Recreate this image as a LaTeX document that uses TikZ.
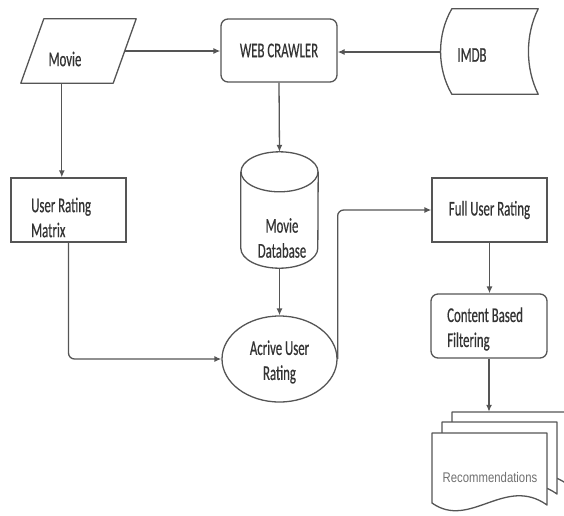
\documentclass[tikz,border=0pt]{standalone}
\usepackage{fontspec}
\setmainfont{Carlito}
\newfontfamily\lblfont{Carlito}[FakeStretch=0.61, FakeBold=0.5]
\newfontfamily\docfont{Liberation Sans}[FakeStretch=0.81]
\usetikzlibrary{arrows.meta,shapes.geometric,calc}
\definecolor{edge}{HTML}{555555}
\definecolor{ink}{HTML}{333333}
\definecolor{docink}{HTML}{707070}

\tikzset{
  outline/.style={draw=edge, line width=1.3pt},
  boxnode/.style={outline, rectangle, minimum width=115pt, minimum height=64pt, inner sep=0pt},
  roundbox/.style={boxnode, rounded corners=7pt},
  ghost/.style={rectangle, draw=none, inner sep=0pt},
  flow/.style={draw=edge, line width=1.3pt, rounded corners=6pt, -{Latex[length=7pt,width=6pt]}},
  docpage/.pic={
    \draw[outline, fill=white, line join=round]
      (-57.5,-36) -- (57.5,-36) -- (57.5,36)
      .. controls (15.5,6) and (-19.5,61) .. (-57.5,34) -- cycle;
  }
}

\begin{document}
\begin{tikzpicture}[x=1pt, y=-1pt,
  every node/.style={font=\lblfont\fontsize{21}{25}\selectfont, text=ink}]
\useasboundingbox (0,0) rectangle (564,515);

% Movie (input parallelogram)
\node[ghost, minimum width=115pt, minimum height=64pt] (movie) at (78.5,51) {};
\draw[outline, line join=round] ($(movie.north west)+(23,0)$) -- (movie.north east)
  -- ($(movie.south east)+(-23,0)$) -- (movie.south west) -- cycle;
\node (movielabel) at (65,59) {Movie};
\coordinate (movieE) at ($(movie.north east)!0.5!(movie.south east)+(-11.5,0)$);
\coordinate (movieS) at ($(movie.south west)+(41,0)$);

% Web crawler
\node[roundbox, minimum width=116pt, minimum height=63pt] (wc) at (279,50.5) {WEB CRAWLER};

% IMDB (stored data)
\node[ghost, minimum width=97pt, minimum height=85pt] (imdb) at (489.5,51.5) {};
\draw[outline, line join=round] ($(imdb.north west)+(11,0)$) -- (imdb.north east)
  .. controls ($(imdb.north east)+(-13,26)$) and ($(imdb.south east)+(-13,-26)$) .. (imdb.south east)
  -- ($(imdb.south west)+(11,0)$)
  .. controls ($(imdb.south west)+(-4,-26)$) and ($(imdb.north west)+(-4,26)$) .. ($(imdb.north west)+(11,0)$)
  -- cycle;
\node (imdblabel) at (472,55) {IMDB};
\coordinate (imdbW) at ($(imdb.west)+(0,0.5)$);

% Movie database (cylinder)
\node[ghost, minimum width=77pt, minimum height=116pt] (db) at (279.5,210) {};
\draw[outline] ($(db.north west)+(0,20)$) -- ($(db.south west)+(0,-20)$)
  arc[start angle=180, end angle=360, x radius=38.5pt, y radius=20pt]
  -- ($(db.north east)+(0,20)$);
\draw[outline] ($(db.north)+(0,20)$) ellipse[x radius=38.5pt, y radius=20pt];
\node[align=center] (dblabel) at (282,238) {Movie\\Database};

% User rating matrix
\node[boxnode] (urm) at (68.5,210) {};
\node[align=left, anchor=west, inner sep=0pt] (urmlabel) at (31,217.5) {User Rating\\Matrix};

% Active user rating
\node[outline, ellipse, minimum width=115pt, minimum height=86pt, inner sep=0pt] (act) at (279.5,359) {};
\node[align=center] (actlabel) at (279.5,362) {Acrive User\\Rating};

% Full user rating and content based filtering
\node[boxnode] (fur) at (489.5,210) {Full User Rating};
\node[roundbox, minimum width=116pt] (cbf) at (489,326) {};
\node[align=left, anchor=west, inner sep=0pt] (cbflabel) at (447,329) {Content Based\\Filtering};

% Recommendations (stack of documents)
\node[ghost, minimum width=115pt, minimum height=72pt] (recback) at (509.5,448) {};
\pic at (509.5,448) {docpage};
\pic at (499.5,458) {docpage};
\pic at (489.5,469) {docpage};
\node[ghost, minimum width=115pt, minimum height=72pt] (rec) at (489.5,469) {};
\node[font=\docfont\fontsize{14}{16}\selectfont, text=docink] (reclabel) at (490,477) {Recommendations};

% Connectors
\draw[flow] (movieE) -- (wc.west |- movieE);
\draw[flow] (imdbW) -- (wc.east |- imdbW);
\draw[flow] (movieS) -- (movieS |- urm.north);
\draw[flow] (wc.south) -- (db.north);
\draw[flow] (urm.south) |- (act.west);
\draw[flow] (db.south) -- (act.north);
\draw[flow] (act.east) |- (fur.west);
\draw[flow] (fur.south) -- (fur.south |- cbf.north);
\draw[flow] (cbf.south) -- (cbf.south |- recback.north);
\end{tikzpicture}
\end{document}
